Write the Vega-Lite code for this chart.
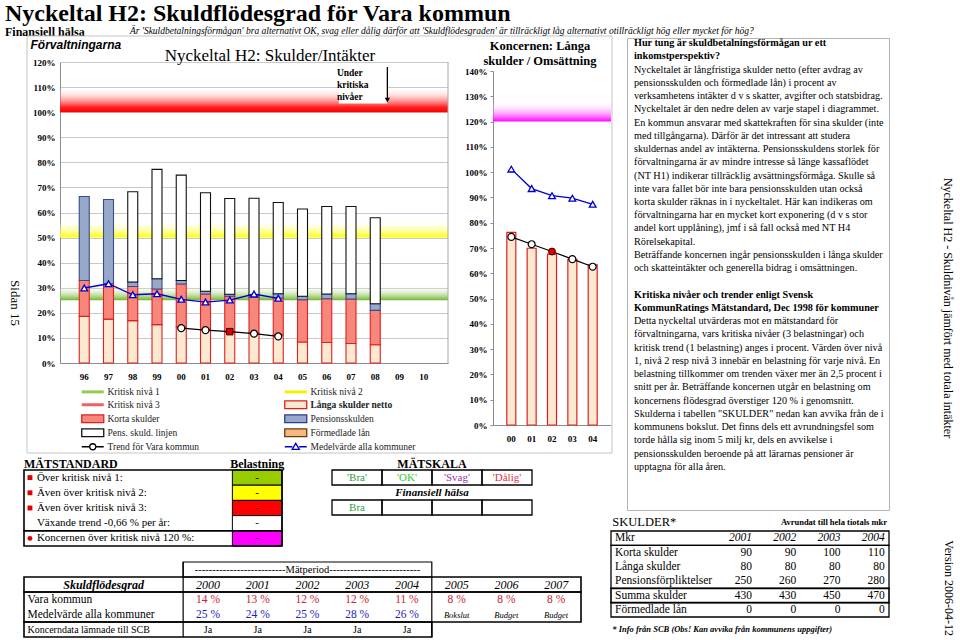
{
"$schema": "https://vega.github.io/schema/vega-lite/v6.json",
"background": "white",
"padding": {"left": 5, "top": 2, "right": 0, "bottom": 0},
"spacing": 0,
"bounds": "flush",
"resolve": {"scale": {"color": "independent", "fill": "independent", "stroke": "independent", "shape": "independent", "strokeWidth": "independent"}, "legend": {"color": "independent", "fill": "independent", "stroke": "independent", "shape": "independent", "strokeWidth": "independent"}},
"config": {
  "view": {"stroke": null},
  "font": "Liberation Serif",
  "text": {"font": "Liberation Serif", "color": "#000000"},
  "title": {"font": "Liberation Serif", "color": "#000000", "subtitleFont": "Liberation Serif", "subtitleColor": "#000000"},
  "axis": {"labelFont": "Liberation Serif", "titleFont": "Liberation Serif", "labelColor": "#000000", "titleColor": "#000000", "labelOverlap": false},
  "legend": {"labelFont": "Liberation Serif"}
},
"datasets": {
  "stapel": [
    {"ar":"96","del":"Långa skulder netto","varde":18.6},{"ar":"96","del":"Korta skulder","varde":14.3},{"ar":"96","del":"Pensionsskulden","varde":33.5},
    {"ar":"97","del":"Långa skulder netto","varde":17.5},{"ar":"97","del":"Korta skulder","varde":14.1},{"ar":"97","del":"Pensionsskulden","varde":33.6},
    {"ar":"98","del":"Långa skulder netto","varde":16.9},{"ar":"98","del":"Korta skulder","varde":13.6},{"ar":"98","del":"Pensionsskulden","varde":1.8},{"ar":"98","del":"Pens. skuld. linjen","varde":36.0},
    {"ar":"99","del":"Långa skulder netto","varde":15.3},{"ar":"99","del":"Korta skulder","varde":14.2},{"ar":"99","del":"Pensionsskulden","varde":4.1},{"ar":"99","del":"Pens. skuld. linjen","varde":43.6},
    {"ar":"00","del":"Långa skulder netto","varde":14.3},{"ar":"00","del":"Korta skulder","varde":17.2},{"ar":"00","del":"Pensionsskulden","varde":1.4},{"ar":"00","del":"Pens. skuld. linjen","varde":42.0},
    {"ar":"01","del":"Långa skulder netto","varde":13.4},{"ar":"01","del":"Korta skulder","varde":14.1},{"ar":"01","del":"Pensionsskulden","varde":1.1},{"ar":"01","del":"Pens. skuld. linjen","varde":39.3},
    {"ar":"02","del":"Långa skulder netto","varde":12.3},{"ar":"02","del":"Korta skulder","varde":14.3},{"ar":"02","del":"Pensionsskulden","varde":0.8},{"ar":"02","del":"Pens. skuld. linjen","varde":38.2},
    {"ar":"03","del":"Långa skulder netto","varde":11.9},{"ar":"03","del":"Korta skulder","varde":14.3},{"ar":"03","del":"Pensionsskulden","varde":1.0},{"ar":"03","del":"Pens. skuld. linjen","varde":38.5},
    {"ar":"04","del":"Långa skulder netto","varde":11.2},{"ar":"04","del":"Korta skulder","varde":14.7},{"ar":"04","del":"Pensionsskulden","varde":1.7},{"ar":"04","del":"Pens. skuld. linjen","varde":36.4},
    {"ar":"05","del":"Långa skulder netto","varde":8.4},{"ar":"05","del":"Korta skulder","varde":16.8},{"ar":"05","del":"Pensionsskulden","varde":1.4},{"ar":"05","del":"Pens. skuld. linjen","varde":34.8},
    {"ar":"06","del":"Långa skulder netto","varde":8.2},{"ar":"06","del":"Korta skulder","varde":17.4},{"ar":"06","del":"Pensionsskulden","varde":1.9},{"ar":"06","del":"Pens. skuld. linjen","varde":34.9},
    {"ar":"07","del":"Långa skulder netto","varde":7.8},{"ar":"07","del":"Korta skulder","varde":17.7},{"ar":"07","del":"Pensionsskulden","varde":2.1},{"ar":"07","del":"Pens. skuld. linjen","varde":34.8},
    {"ar":"08","del":"Långa skulder netto","varde":7.3},{"ar":"08","del":"Korta skulder","varde":13.7},{"ar":"08","del":"Pensionsskulden","varde":2.6},{"ar":"08","del":"Pens. skuld. linjen","varde":34.3}
  ],
  "forvLinjer": [
    {"ar":"96","serie":"Medelvärde alla kommuner","varde":29.9},
    {"ar":"97","serie":"Medelvärde alla kommuner","varde":31.6},
    {"ar":"98","serie":"Medelvärde alla kommuner","varde":27.2},
    {"ar":"99","serie":"Medelvärde alla kommuner","varde":27.6},
    {"ar":"00","serie":"Medelvärde alla kommuner","varde":25.4},
    {"ar":"01","serie":"Medelvärde alla kommuner","varde":24.3},
    {"ar":"02","serie":"Medelvärde alla kommuner","varde":25.1},
    {"ar":"03","serie":"Medelvärde alla kommuner","varde":27.5},
    {"ar":"04","serie":"Medelvärde alla kommuner","varde":25.8},
    {"ar":"00","serie":"Trend för Vara kommun","varde":13.9,"aktuellt":false},
    {"ar":"01","serie":"Trend för Vara kommun","varde":13.1,"aktuellt":false},
    {"ar":"02","serie":"Trend för Vara kommun","varde":12.5,"aktuellt":true},
    {"ar":"03","serie":"Trend för Vara kommun","varde":11.7,"aktuellt":false},
    {"ar":"04","serie":"Trend för Vara kommun","varde":10.6,"aktuellt":false}
  ],
  "nivaer": [
    {"niva":"Kritisk nivå 1","fran":25,"till":31},
    {"niva":"Kritisk nivå 2","fran":50,"till":57},
    {"niva":"Kritisk nivå 3","fran":100,"till":110},
    {"niva":"Koncernens kritiska nivå","fran":120,"till":128}
  ],
  "koncernStapel": [
    {"ar":"00","varde":76.2},{"ar":"01","varde":69.9},{"ar":"02","varde":67.6},{"ar":"03","varde":65.5},{"ar":"04","varde":63.3}
  ],
  "koncernLinjer": [
    {"ar":"00","serie":"Medelvärde alla kommuner","varde":101.2},
    {"ar":"01","serie":"Medelvärde alla kommuner","varde":93.5},
    {"ar":"02","serie":"Medelvärde alla kommuner","varde":90.7},
    {"ar":"03","serie":"Medelvärde alla kommuner","varde":89.7},
    {"ar":"04","serie":"Medelvärde alla kommuner","varde":87.3},
    {"ar":"00","serie":"Trend för Vara kommun","varde":74.4,"aktuellt":false},
    {"ar":"01","serie":"Trend för Vara kommun","varde":71.5,"aktuellt":false},
    {"ar":"02","serie":"Trend för Vara kommun","varde":68.6,"aktuellt":true},
    {"ar":"03","serie":"Trend för Vara kommun","varde":65.6,"aktuellt":false},
    {"ar":"04","serie":"Trend för Vara kommun","varde":62.6,"aktuellt":false}
  ],
  "matstandard": [
    {"rad":1,"blokk":1,"kriterium":"Över kritisk nivå 1:","belastning":"-","symbol":"kvadrat","niva":"Nivå 1"},
    {"rad":2,"blokk":1,"kriterium":"Även över kritisk nivå 2:","belastning":"-","symbol":"kvadrat","niva":"Nivå 2"},
    {"rad":3,"blokk":1,"kriterium":"Även över kritisk nivå 3:","belastning":"-","symbol":"kvadrat","niva":"Nivå 3"},
    {"rad":4,"blokk":1,"kriterium":"Växande trend -0,66 % per år:","belastning":"-","symbol":"ingen","niva":"Trend"},
    {"rad":5,"blokk":2,"kriterium":"Koncernen över kritisk nivå 120 %:","belastning":"-","symbol":"cirkel","niva":"Koncern"}
  ],
  "matskala": [
    {"kol":1,"klass":"Bra","resultat":"Bra"},
    {"kol":2,"klass":"OK","resultat":""},
    {"kol":3,"klass":"Svag","resultat":""},
    {"kol":4,"klass":"Dålig","resultat":""}
  ],
  "skuldflodesgrad": [
    {"ar":2000,"vara":14,"medel":25,"koncerndata":"Ja"},
    {"ar":2001,"vara":13,"medel":24,"koncerndata":"Ja"},
    {"ar":2002,"vara":12,"medel":25,"koncerndata":"Ja"},
    {"ar":2003,"vara":12,"medel":28,"koncerndata":"Ja"},
    {"ar":2004,"vara":11,"medel":26,"koncerndata":"Ja"},
    {"ar":2005,"vara":8,"status":"Bokslut"},
    {"ar":2006,"vara":8,"status":"Budget"},
    {"ar":2007,"vara":8,"status":"Budget"}
  ],
  "skulder": [
    {"post":"Korta skulder","ar":2001,"mkr":90},{"post":"Korta skulder","ar":2002,"mkr":90},{"post":"Korta skulder","ar":2003,"mkr":100},{"post":"Korta skulder","ar":2004,"mkr":110},
    {"post":"Långa skulder","ar":2001,"mkr":80},{"post":"Långa skulder","ar":2002,"mkr":80},{"post":"Långa skulder","ar":2003,"mkr":80},{"post":"Långa skulder","ar":2004,"mkr":80},
    {"post":"Pensionsförpliktelser","ar":2001,"mkr":250},{"post":"Pensionsförpliktelser","ar":2002,"mkr":260},{"post":"Pensionsförpliktelser","ar":2003,"mkr":270},{"post":"Pensionsförpliktelser","ar":2004,"mkr":280},
    {"post":"Summa skulder","ar":2001,"mkr":430},{"post":"Summa skulder","ar":2002,"mkr":430},{"post":"Summa skulder","ar":2003,"mkr":450},{"post":"Summa skulder","ar":2004,"mkr":470},
    {"post":"Förmedlade lån","ar":2001,"mkr":0},{"post":"Förmedlade lån","ar":2002,"mkr":0},{"post":"Förmedlade lån","ar":2003,"mkr":0},{"post":"Förmedlade lån","ar":2004,"mkr":0}
  ],
  "forklaring": [
    {"rad":1,"stil":"rubrik","text":"Hur tung är skuldbetalningsförmågan ur ett"},
    {"rad":2,"stil":"rubrik","text":"inkomstperspektiv?"},
    {"rad":3,"stil":"brod","text":"Nyckeltalet är långfristiga skulder netto (efter avdrag av"},
    {"rad":4,"stil":"brod","text":"pensionsskulden och förmedlade lån) i procent av"},
    {"rad":5,"stil":"brod","text":"verksamhetens intäkter d v s skatter, avgifter och statsbidrag."},
    {"rad":6,"stil":"brod","text":"Nyckeltalet är den nedre delen av varje stapel i diagrammet."},
    {"rad":7,"stil":"brod","text":"En kommun ansvarar med skattekraften för sina skulder (inte"},
    {"rad":8,"stil":"brod","text":"med tillgångarna). Därför är det intressant att studera"},
    {"rad":9,"stil":"brod","text":"skuldernas andel av intäkterna. Pensionsskuldens storlek för"},
    {"rad":10,"stil":"brod","text":"förvaltningarna är av mindre intresse så länge kassaflödet"},
    {"rad":11,"stil":"brod","text":"(NT H1)  indikerar tillräcklig avsättningsförmåga. Skulle så"},
    {"rad":12,"stil":"brod","text":"inte vara fallet bör inte bara pensionsskulden utan också"},
    {"rad":13,"stil":"brod","text":"korta skulder räknas in i nyckeltalet. Här kan indikeras om"},
    {"rad":14,"stil":"brod","text":"förvaltningarna har en mycket kort exponering (d v s stor"},
    {"rad":15,"stil":"brod","text":"andel kort upplåning), jmf i så fall också med NT H4"},
    {"rad":16,"stil":"brod","text":"Rörelsekapital."},
    {"rad":17,"stil":"brod","text":"Beträffande koncernen ingår pensionsskulden i långa skulder"},
    {"rad":18,"stil":"brod","text":"och skatteintäkter och generella bidrag i omsättningen."},
    {"rad":20,"stil":"rubrik","text":"Kritiska nivåer och trender enligt Svensk"},
    {"rad":21,"stil":"rubrik","text":"KommunRatings Mätstandard, Dec 1998 för kommuner"},
    {"rad":22,"stil":"brod","text":"Detta nyckeltal utvärderas mot en mätstandard för"},
    {"rad":23,"stil":"brod","text":"förvaltningarna, vars kritiska nivåer (3 belastningar) och"},
    {"rad":24,"stil":"brod","text":"kritisk trend (1 belastning) anges i procent. Värden över nivå"},
    {"rad":25,"stil":"brod","text":"1, nivå 2 resp nivå 3 innebär en belastning för varje nivå. En"},
    {"rad":26,"stil":"brod","text":"belastning tillkommer om trenden växer mer än 2,5 procent i"},
    {"rad":27,"stil":"brod","text":"snitt per år. Beträffande koncernen utgår en belastning om"},
    {"rad":28,"stil":"brod","text":"koncernens flödesgrad överstiger 120 % i genomsnitt."},
    {"rad":29,"stil":"brod","text":"Skulderna i tabellen \"SKULDER\" nedan kan avvika från de i"},
    {"rad":30,"stil":"brod","text":"kommunens bokslut. Det finns dels ett avrundningsfel som"},
    {"rad":31,"stil":"brod","text":"torde hålla sig inom 5 milj kr, dels en avvikelse i"},
    {"rad":32,"stil":"brod","text":"pensionsskulden beroende på att lärarnas pensioner är"},
    {"rad":33,"stil":"brod","text":"upptagna för alla åren."}
  ]
},
"hconcat": [
  {"width": 1, "height": 1, "data": {"values": []}, "mark": "point",
   "title": {"text": "Nyckeltal H2: Skuldflödesgrad för Vara kommun", "subtitle": "Finansiell hälsa", "anchor": "start", "fontSize": 24, "fontWeight": "bold", "subtitleFontSize": 12, "subtitleFontWeight": "bold", "offset": 0, "subtitlePadding": 1}},
  {"width": 1, "height": 530, "data": {"values": []}, "mark": "point",
   "title": {"text": "Sidan 15", "orient": "right", "angle": 90, "anchor": "middle", "fontSize": 13, "fontWeight": "normal", "offset": 1}},
  {"width": 15, "height": 1, "data": {"values": []}, "mark": "point"},
  {
    "width": 38, "height": 1,
    "title": {"text": "Är 'Skuldbetalningsförmågan' bra alternativt OK, svag eller dålig därför att 'Skuldflödesgraden' är tillräckligt låg alternativt otillräckligt hög eller mycket för hög?", "anchor": "start", "dx": 108, "fontSize": 9.5, "fontWeight": "normal", "fontStyle": "italic", "offset": 0},
    "layer": [
      {"data": {"values": [{}]}, "mark": {"type": "rect", "fillOpacity": 0, "stroke": "#c4c4c4", "strokeWidth": 1},
       "encoding": {
         "x": {"datum": 0, "type": "quantitative", "scale": {"domain": [0, 1], "range": [5, 590], "nice": false}, "axis": null},
         "x2": {"datum": 1},
         "y": {"datum": 0, "type": "quantitative", "scale": {"domain": [0, 1], "range": [-2, 415], "nice": false}, "axis": null},
         "y2": {"datum": 1}}},
      {
        "data": {"name": "matstandard"},
        "transform": [{"calculate": "datum.rad - 0.5", "as": "y0"}, {"calculate": "datum.rad + 0.5", "as": "y1"}],
        "layer": [
          {"mark": {"type": "rect", "stroke": "#000000", "strokeWidth": 1},
           "encoding": {
             "x": {"datum": 4.2, "type": "quantitative", "scale": {"domain": [0, 5.2], "range": [2, 260], "nice": false, "zero": false}, "axis": null},
             "x2": {"datum": 5.2},
             "y": {"field": "y0", "type": "quantitative", "scale": {"domain": [0.5, 5.5], "range": [432, 508], "nice": false, "zero": false}, "axis": null},
             "y2": {"field": "y1"},
             "fill": {"field": "niva", "type": "nominal", "scale": {"domain": ["Nivå 1","Nivå 2","Nivå 3","Trend","Koncern"], "range": ["#99CC00","#FFFF00","#FF0000","#FFFFFF","#FF00FF"]}, "legend": null}}},
          {"transform": [{"aggregate": [{"op": "min", "field": "y0", "as": "b0"}, {"op": "max", "field": "y1", "as": "b1"}], "groupby": ["blokk"]}],
           "mark": {"type": "rect", "fillOpacity": 0, "stroke": "#000000", "strokeWidth": 1.6},
           "encoding": {"x": {"datum": 0, "type": "quantitative"}, "x2": {"datum": 5.2}, "y": {"field": "b0", "type": "quantitative"}, "y2": {"field": "b1"}}},
          {"transform": [{"filter": "datum.symbol != 'ingen'"}],
           "mark": {"type": "point", "filled": true, "color": "#E00000", "size": 24, "opacity": 1},
           "encoding": {"x": {"datum": 0.12, "type": "quantitative"}, "y": {"field": "rad", "type": "quantitative"},
             "shape": {"field": "symbol", "type": "nominal", "scale": {"domain": ["kvadrat","cirkel"], "range": ["square","circle"]}, "legend": null}}},
          {"mark": {"type": "text", "align": "left", "baseline": "middle", "fontSize": 11},
           "encoding": {"x": {"datum": 0.26, "type": "quantitative"}, "y": {"field": "rad", "type": "quantitative"}, "text": {"field": "kriterium"}}},
          {"mark": {"type": "text", "align": "center", "baseline": "middle", "fontSize": 11},
           "encoding": {"x": {"datum": 4.7, "type": "quantitative"}, "y": {"field": "rad", "type": "quantitative"}, "text": {"field": "belastning"}}},
          {"data": {"values": [{}]},
           "mark": {"type": "text", "align": "left", "baseline": "middle", "fontSize": 12, "fontWeight": "bold"},
           "encoding": {"x": {"datum": 0.0, "type": "quantitative"}, "y": {"datum": 0.1, "type": "quantitative"}, "text": {"value": "MÄTSTANDARD"}}},
          {"data": {"values": [{}]},
           "mark": {"type": "text", "align": "center", "baseline": "middle", "fontSize": 12, "fontWeight": "bold"},
           "encoding": {"x": {"datum": 4.7, "type": "quantitative"}, "y": {"datum": 0.1, "type": "quantitative"}, "text": {"value": "Belastning"}}}
        ]
      },
      {
        "data": {"name": "matskala"},
        "transform": [{"calculate": "datum.kol - 0.5", "as": "k0"}, {"calculate": "datum.kol + 0.5", "as": "k1"}, {"calculate": "\"'\" + datum.klass + \"'\"", "as": "etikett"}],
        "layer": [
          {"mark": {"type": "rect", "fillOpacity": 0, "stroke": "#000000", "strokeWidth": 1.3},
           "encoding": {
             "x": {"field": "k0", "type": "quantitative", "scale": {"domain": [0.5, 4.5], "range": [310, 510], "nice": false, "zero": false}, "axis": null},
             "x2": {"field": "k1"},
             "y": {"datum": 0.5, "type": "quantitative", "scale": {"domain": [0.5, 3.5], "range": [432, 477], "nice": false, "zero": false}, "axis": null},
             "y2": {"datum": 1.5}}},
          {"mark": {"type": "rect", "fillOpacity": 0, "stroke": "#000000", "strokeWidth": 1.3},
           "encoding": {"x": {"field": "k0", "type": "quantitative"}, "x2": {"field": "k1"}, "y": {"datum": 2.5, "type": "quantitative"}, "y2": {"datum": 3.5}}},
          {"mark": {"type": "text", "align": "center", "baseline": "middle", "fontSize": 11},
           "encoding": {"x": {"field": "kol", "type": "quantitative"}, "y": {"datum": 1, "type": "quantitative"}, "text": {"field": "etikett"},
             "color": {"field": "klass", "type": "nominal", "scale": {"domain": ["Bra","OK","Svag","Dålig"], "range": ["#2E9E3E","#33CC33","#9933AA","#DD3344"]}, "legend": null}}},
          {"transform": [{"filter": "datum.resultat != ''"}],
           "mark": {"type": "text", "align": "center", "baseline": "middle", "fontSize": 11},
           "encoding": {"x": {"field": "kol", "type": "quantitative"}, "y": {"datum": 3, "type": "quantitative"}, "text": {"field": "resultat"},
             "color": {"field": "klass", "type": "nominal", "legend": null}}},
          {"data": {"values": [{}]},
           "mark": {"type": "text", "align": "center", "baseline": "middle", "fontSize": 12, "fontWeight": "bold"},
           "encoding": {"x": {"datum": 2.5, "type": "quantitative"}, "y": {"datum": 0.1, "type": "quantitative"}, "text": {"value": "MÄTSKALA"}}},
          {"data": {"values": [{}]},
           "mark": {"type": "text", "align": "center", "baseline": "middle", "fontSize": 11, "fontWeight": "bold", "fontStyle": "italic"},
           "encoding": {"x": {"datum": 2.5, "type": "quantitative"}, "y": {"datum": 2, "type": "quantitative"}, "text": {"value": "Finansiell hälsa"}}}
        ]
      },
      {
        "data": {"name": "skuldflodesgrad"},
        "layer": [
          {"data": {"values": [{}]}, "mark": {"type": "rect", "fillOpacity": 0, "stroke": "#000000", "strokeWidth": 1.2},
           "encoding": {
             "x": {"datum": 1999.5, "type": "quantitative", "scale": {"domain": [1996.3, 2007.5], "range": [2, 559], "nice": false, "zero": false}, "axis": null},
             "x2": {"datum": 2004.5},
             "y": {"datum": -0.5, "type": "quantitative", "scale": {"domain": [-0.5, 4.5], "range": [524, 599], "nice": false, "zero": false}, "axis": null},
             "y2": {"datum": 0.5}}},
          {"data": {"values": [{}]}, "mark": {"type": "rect", "fillOpacity": 0, "stroke": "#000000", "strokeWidth": 1.6},
           "encoding": {"x": {"datum": 1996.3, "type": "quantitative"}, "x2": {"datum": 2007.5}, "y": {"datum": 0.5, "type": "quantitative"}, "y2": {"datum": 1.5}}},
          {"data": {"values": [{}]}, "mark": {"type": "rect", "fillOpacity": 0, "stroke": "#000000", "strokeWidth": 1.6},
           "encoding": {"x": {"datum": 1996.3, "type": "quantitative"}, "x2": {"datum": 2007.5}, "y": {"datum": 1.5, "type": "quantitative"}, "y2": {"datum": 3.5}}},
          {"data": {"values": [{}]}, "mark": {"type": "rect", "fillOpacity": 0, "stroke": "#000000", "strokeWidth": 1.6},
           "encoding": {"x": {"datum": 1996.3, "type": "quantitative"}, "x2": {"datum": 2004.5}, "y": {"datum": 3.5, "type": "quantitative"}, "y2": {"datum": 4.5}}},
          {"data": {"values": [{}]}, "mark": {"type": "rule", "color": "#000000", "strokeWidth": 1.2},
           "encoding": {"x": {"datum": 1999.5, "type": "quantitative"}, "y": {"datum": -0.5, "type": "quantitative"}, "y2": {"datum": 4.5}}},
          {"data": {"values": [{}]}, "mark": {"type": "rule", "color": "#000000", "strokeWidth": 1.2},
           "encoding": {"x": {"datum": 2004.5, "type": "quantitative"}, "y": {"datum": 0.5, "type": "quantitative"}, "y2": {"datum": 4.5}}},
          {"data": {"values": [{}]}, "mark": {"type": "text", "align": "center", "baseline": "middle", "fontSize": 10.5},
           "encoding": {"x": {"datum": 2002, "type": "quantitative"}, "y": {"datum": 0, "type": "quantitative"}, "text": {"value": "--------------------------Mätperiod--------------------------"}}},
          {"data": {"values": [{}]}, "mark": {"type": "text", "align": "center", "baseline": "middle", "fontSize": 12, "fontWeight": "bold", "fontStyle": "italic"},
           "encoding": {"x": {"datum": 1997.9, "type": "quantitative"}, "y": {"datum": 1, "type": "quantitative"}, "text": {"value": "Skuldflödesgrad"}}},
          {"mark": {"type": "text", "align": "center", "baseline": "middle", "fontSize": 12, "fontStyle": "italic"},
           "encoding": {"x": {"field": "ar", "type": "quantitative"}, "y": {"datum": 1, "type": "quantitative"}, "text": {"field": "ar", "type": "quantitative", "format": "d"}}},
          {"data": {"values": [{"rad": 2, "etikett": "Vara kommun"}, {"rad": 3, "etikett": "Medelvärde alla kommuner"}]},
           "mark": {"type": "text", "align": "left", "baseline": "middle", "fontSize": 11.5},
           "encoding": {"x": {"datum": 1996.37, "type": "quantitative"}, "y": {"field": "rad", "type": "quantitative"}, "text": {"field": "etikett"}}},
          {"data": {"values": [{"rad": 4, "etikett": "Koncerndata lämnade till SCB"}]},
           "mark": {"type": "text", "align": "left", "baseline": "middle", "fontSize": 10},
           "encoding": {"x": {"datum": 1996.37, "type": "quantitative"}, "y": {"field": "rad", "type": "quantitative"}, "text": {"field": "etikett"}}},
          {"transform": [{"calculate": "datum.vara + ' %'", "as": "vara_txt"}],
           "mark": {"type": "text", "align": "center", "baseline": "middle", "fontSize": 11.5, "color": "#CC2233"},
           "encoding": {"x": {"field": "ar", "type": "quantitative"}, "y": {"datum": 2, "type": "quantitative"}, "text": {"field": "vara_txt"}}},
          {"transform": [{"filter": "isValid(datum.medel)"}, {"calculate": "datum.medel + ' %'", "as": "medel_txt"}],
           "mark": {"type": "text", "align": "center", "baseline": "middle", "fontSize": 11.5, "color": "#2222BB"},
           "encoding": {"x": {"field": "ar", "type": "quantitative"}, "y": {"datum": 3, "type": "quantitative"}, "text": {"field": "medel_txt"}}},
          {"transform": [{"filter": "isValid(datum.status)"}],
           "mark": {"type": "text", "align": "center", "baseline": "middle", "fontSize": 8.5, "fontStyle": "italic"},
           "encoding": {"x": {"field": "ar", "type": "quantitative"}, "y": {"datum": 3, "type": "quantitative"}, "text": {"field": "status"}}},
          {"transform": [{"filter": "isValid(datum.koncerndata)"}],
           "mark": {"type": "text", "align": "center", "baseline": "middle", "fontSize": 10},
           "encoding": {"x": {"field": "ar", "type": "quantitative"}, "y": {"datum": 4, "type": "quantitative"}, "text": {"field": "koncerndata"}}}
        ]
      }
    ],
    "resolve": {"scale": {"x": "independent", "y": "independent", "color": "independent", "fill": "independent", "shape": "independent"}}
  },
  {
    "width": 388, "height": 325,
    "title": {"text": "Nyckeltal H2: Skulder/Intäkter", "fontSize": 17, "fontWeight": "normal", "anchor": "middle", "dx": 16, "dy": 27, "offset": 0},
    "layer": [
      {"data": {"name": "nivaer"}, "transform": [{"filter": "datum.niva == 'Kritisk nivå 1'"}],
       "mark": {"type": "rect", "fill": {"gradient": "linear", "x1": 0, "y1": 1, "x2": 0, "y2": 0, "stops": [{"offset": 0, "color": "#6FB52C"}, {"offset": 1, "color": "rgba(255,255,255,0)"}]}},
       "encoding": {
         "y": {"field": "fran", "type": "quantitative", "title": "Förvaltningarna", "scale": {"domain": [0, 120], "nice": false, "range": [325, 24]}, "axis": {"values": [0,10,20,30,40,50,60,70,80,90,100,110,120], "tickCount": 20, "labelOverlap": false, "labelExpr": "datum.value + '%'", "labelFontSize": 9, "labelFontWeight": "bold", "labelPadding": 5, "grid": true, "gridColor": "#c8c8c8", "ticks": false, "domainColor": "#8c8c8c", "titleAngle": 0, "titleAlign": "left", "titleBaseline": "middle", "titleX": -30, "titleY": 6, "titleFont": "Liberation Sans", "titleFontSize": 12, "titleFontWeight": "bold", "titleFontStyle": "italic"}},
         "y2": {"field": "till"}}},
      {"data": {"name": "nivaer"}, "transform": [{"filter": "datum.niva == 'Kritisk nivå 2'"}],
       "mark": {"type": "rect", "fill": {"gradient": "linear", "x1": 0, "y1": 1, "x2": 0, "y2": 0, "stops": [{"offset": 0, "color": "#FFFF00"}, {"offset": 1, "color": "rgba(255,255,255,0)"}]}},
       "encoding": {"y": {"field": "fran", "type": "quantitative", "title": "Förvaltningarna"}, "y2": {"field": "till"}}},
      {"data": {"name": "nivaer"}, "transform": [{"filter": "datum.niva == 'Kritisk nivå 3'"}],
       "mark": {"type": "rect", "fill": {"gradient": "linear", "x1": 0, "y1": 1, "x2": 0, "y2": 0, "stops": [{"offset": 0, "color": "#FF0000"}, {"offset": 0.2, "color": "#FF2020"}, {"offset": 1, "color": "rgba(255,255,255,0)"}]}},
       "encoding": {"y": {"field": "fran", "type": "quantitative", "title": "Förvaltningarna"}, "y2": {"field": "till"}}},
      {"data": {"name": "stapel"},
       "transform": [{"calculate": "indexof(['Långa skulder netto','Korta skulder','Pensionsskulden','Pens. skuld. linjen'], datum.del)", "as": "ordning"}],
       "mark": {"type": "bar", "size": 10},
       "encoding": {
         "x": {"field": "ar", "type": "ordinal", "title": null, "scale": {"domain": ["96","97","98","99","00","01","02","03","04","05","06","07","08","09","10"], "paddingInner": 0, "paddingOuter": 0.5}, "axis": {"labelFontSize": 9, "labelFontWeight": "bold", "labelPadding": 9, "ticks": false, "domainColor": "#8c8c8c", "labelAngle": 0}},
         "y": {"field": "varde", "type": "quantitative", "title": "Förvaltningarna", "stack": "zero"},
         "order": {"field": "ordning", "type": "quantitative"},
         "color": {"field": "del", "type": "nominal",
           "scale": {"domain": ["Kritisk nivå 1","Kritisk nivå 3","Korta skulder","Pens. skuld. linjen","Trend för Vara kommun","Kritisk nivå 2","Långa skulder netto","Pensionsskulden","Förmedlade lån","Medelvärde alla kommuner"],
                     "range": ["#9BC94F","#F06060","#F7877A","#FFFFFF","#FFFFFF","#FFFF33","#FDE9CF","#97A9C9","#F5B97D","#FFFFFF"]},
           "legend": {"orient": "none", "legendX": 28, "legendY": 349, "columns": 2, "columnPadding": 78, "rowPadding": 0, "title": null, "symbolSize": 64, "labelFontSize": 9.5, "labelOffset": 10, "labelColor": "#222222",
             "encode": {
               "symbols": {"update": {
                 "shape": {"signal": "['M-2.75,0H2.75','M-2.75,0H2.75','M-2.75,-0.95H2.75V0.95H-2.75Z','M-2.75,-0.95H2.75V0.95H-2.75Z','M-2.75,0H-0.75M0.75,0H2.75M0.75,0A0.75,0.75 0 1,1 -0.75,0A0.75,0.75 0 1,1 0.75,0Z','M-2.75,0H2.75','M-2.75,-0.95H2.75V0.95H-2.75Z','M-2.75,-0.95H2.75V0.95H-2.75Z','M-2.75,-0.95H2.75V0.95H-2.75Z','M-2.75,0H-0.85M0.85,0H2.75M0,-0.85L0.9,0.65L-0.9,0.65Z'][indexof(['Kritisk nivå 1','Kritisk nivå 3','Korta skulder','Pens. skuld. linjen','Trend för Vara kommun','Kritisk nivå 2','Långa skulder netto','Pensionsskulden','Förmedlade lån','Medelvärde alla kommuner'], datum.value)]"},
                 "fill": {"signal": "['#9BC94F','#F06060','#F7877A','#FFFFFF','#FFFFFF','#FFFF33','#FDE9CF','#97A9C9','#F5B97D','#FFFFFF'][indexof(['Kritisk nivå 1','Kritisk nivå 3','Korta skulder','Pens. skuld. linjen','Trend för Vara kommun','Kritisk nivå 2','Långa skulder netto','Pensionsskulden','Förmedlade lån','Medelvärde alla kommuner'], datum.value)]"},
                 "stroke": {"signal": "['#9BC94F','#F06060','#E02020','#111111','#000000','#F2F200','#E02020','#2F3A8F','#6B3A10','#0000CC'][indexof(['Kritisk nivå 1','Kritisk nivå 3','Korta skulder','Pens. skuld. linjen','Trend för Vara kommun','Kritisk nivå 2','Långa skulder netto','Pensionsskulden','Förmedlade lån','Medelvärde alla kommuner'], datum.value)]"},
                 "strokeWidth": {"signal": "indexof(['Kritisk nivå 1','Kritisk nivå 2','Kritisk nivå 3'], datum.value) >= 0 ? 3 : 1.3"},
                 "opacity": {"value": 1}
               }},
               "labels": {"update": {"fontWeight": {"signal": "datum.value == 'Långa skulder netto' ? 'bold' : 'normal'"}}}
             }}},
         "stroke": {"field": "del", "type": "nominal", "scale": {"domain": ["Långa skulder netto","Korta skulder","Pensionsskulden","Pens. skuld. linjen"], "range": ["#E02020","#E02020","#3A4A90","#111111"]}, "legend": null},
         "strokeWidth": {"field": "del", "type": "nominal", "scale": {"domain": ["Långa skulder netto","Korta skulder","Pensionsskulden","Pens. skuld. linjen"], "range": [1.1, 1.1, 1.1, 1.6]}, "legend": null}
       }},
      {"data": {"values": [{"ar":"10","fran":0,"till":120}]},
       "mark": {"type": "rule", "color": "#a8a8a8", "strokeWidth": 1},
       "encoding": {"x": {"field": "ar", "type": "ordinal", "title": null, "bandPosition": 1.5}, "y": {"field": "fran", "type": "quantitative", "title": "Förvaltningarna"}, "y2": {"field": "till"}}},
      {"data": {"values": [{"ar":"07","fran":103.5,"till":117.8},{"ar":"08","fran":103.5,"till":117.8}]},
       "mark": {"type": "rect", "fill": "#FFFFFF"},
       "encoding": {"x": {"field": "ar", "type": "ordinal", "title": null}, "y": {"field": "fran", "type": "quantitative", "title": "Förvaltningarna"}, "y2": {"field": "till"}}},
      {"data": {"values": [{"ar":"07","niva":117.6,"tekst":"Under\nkritiska\nnivåer"}]},
       "mark": {"type": "text", "align": "left", "baseline": "top", "lineBreak": "\n", "lineHeight": 12, "fontSize": 9.5, "fontWeight": "bold", "dx": -2},
       "encoding": {"x": {"field": "ar", "type": "ordinal", "title": null, "bandPosition": 0}, "y": {"field": "niva", "type": "quantitative", "title": "Förvaltningarna"}, "text": {"field": "tekst"}}},
      {"data": {"values": [{"ar":"08","fran":104.8,"till":118.0}]},
       "mark": {"type": "rule", "color": "#000000", "strokeWidth": 1.3},
       "encoding": {"x": {"field": "ar", "type": "ordinal", "title": null, "bandPosition": 1}, "y": {"field": "fran", "type": "quantitative", "title": "Förvaltningarna"}, "y2": {"field": "till"}}},
      {"data": {"values": [{"ar":"08","fran":104.8}]},
       "mark": {"type": "point", "shape": "triangle-down", "filled": true, "color": "#000000", "size": 28, "opacity": 1},
       "encoding": {"x": {"field": "ar", "type": "ordinal", "title": null, "bandPosition": 1}, "y": {"field": "fran", "type": "quantitative", "title": "Förvaltningarna"}}},
      {"data": {"name": "forvLinjer"}, "transform": [{"filter": "datum.serie == 'Medelvärde alla kommuner'"}],
       "mark": {"type": "line", "color": "#0000CC", "strokeWidth": 1.3},
       "encoding": {"x": {"field": "ar", "type": "ordinal", "title": null}, "y": {"field": "varde", "type": "quantitative", "title": "Förvaltningarna"}}},
      {"data": {"name": "forvLinjer"}, "transform": [{"filter": "datum.serie == 'Medelvärde alla kommuner'"}],
       "mark": {"type": "point", "shape": "triangle-up", "filled": true, "fill": "#FFFFFF", "stroke": "#0000CC", "strokeWidth": 1.3, "size": 45, "opacity": 1},
       "encoding": {"x": {"field": "ar", "type": "ordinal", "title": null}, "y": {"field": "varde", "type": "quantitative", "title": "Förvaltningarna"}}},
      {"data": {"name": "forvLinjer"}, "transform": [{"filter": "datum.serie == 'Trend för Vara kommun'"}],
       "mark": {"type": "line", "color": "#000000", "strokeWidth": 1.2},
       "encoding": {"x": {"field": "ar", "type": "ordinal", "title": null}, "y": {"field": "varde", "type": "quantitative", "title": "Förvaltningarna"}}},
      {"data": {"name": "forvLinjer"}, "transform": [{"filter": "datum.serie == 'Trend för Vara kommun' && !datum.aktuellt"}],
       "mark": {"type": "point", "shape": "circle", "filled": true, "fill": "#FFFFFF", "stroke": "#000000", "strokeWidth": 1.2, "size": 48, "opacity": 1},
       "encoding": {"x": {"field": "ar", "type": "ordinal", "title": null}, "y": {"field": "varde", "type": "quantitative", "title": "Förvaltningarna"}}},
      {"data": {"name": "forvLinjer"}, "transform": [{"filter": "datum.serie == 'Trend för Vara kommun' && datum.aktuellt"}],
       "mark": {"type": "point", "shape": "square", "filled": true, "fill": "#E00000", "stroke": "#400000", "strokeWidth": 1, "size": 42, "opacity": 1},
       "encoding": {"x": {"field": "ar", "type": "ordinal", "title": null}, "y": {"field": "varde", "type": "quantitative", "title": "Förvaltningarna"}}}
    ]
  },
  {"width": 45, "height": 1, "data": {"values": []}, "mark": "point"},
  {
    "width": 118, "height": 387,
    "title": {"text": ["Koncernen: Långa", "skulder / Omsättning"], "fontSize": 12.5, "fontWeight": "bold", "anchor": "middle", "dx": -12, "dy": 29, "offset": 0, "lineHeight": 15},
    "layer": [
      {"data": {"name": "nivaer"}, "transform": [{"filter": "datum.niva == 'Koncernens kritiska nivå'"}],
       "mark": {"type": "rect", "fill": {"gradient": "linear", "x1": 0, "y1": 1, "x2": 0, "y2": 0, "stops": [{"offset": 0, "color": "#FF00FF"}, {"offset": 1, "color": "rgba(255,255,255,0)"}]}},
       "encoding": {
         "y": {"field": "fran", "type": "quantitative", "title": null, "scale": {"domain": [0, 140], "nice": false, "range": [387, 33]}, "axis": {"values": [0,10,20,30,40,50,60,70,80,90,100,110,120,130,140], "tickCount": 20, "labelOverlap": false, "labelExpr": "datum.value + '%'", "labelFontSize": 9, "labelFontWeight": "bold", "labelPadding": 3, "grid": false, "ticks": true, "tickSize": 3, "tickColor": "#8c8c8c", "domainColor": "#8c8c8c"}},
         "y2": {"field": "till"}}},
      {"data": {"name": "koncernStapel"},
       "mark": {"type": "bar", "size": 9, "fill": "#FDE9CF", "stroke": "#E02020", "strokeWidth": 1.2},
       "encoding": {
         "x": {"field": "ar", "type": "ordinal", "title": null, "scale": {"domain": ["00","01","02","03","04"], "paddingInner": 0, "paddingOuter": 0.4}, "axis": {"labelFontSize": 9, "labelFontWeight": "bold", "labelPadding": 9, "ticks": false, "domainColor": "#8c8c8c", "labelAngle": 0}},
         "y": {"field": "varde", "type": "quantitative", "title": null}}},
      {"data": {"name": "koncernLinjer"}, "transform": [{"filter": "datum.serie == 'Medelvärde alla kommuner'"}],
       "mark": {"type": "line", "color": "#0000CC", "strokeWidth": 1.3},
       "encoding": {"x": {"field": "ar", "type": "ordinal", "title": null}, "y": {"field": "varde", "type": "quantitative", "title": null}}},
      {"data": {"name": "koncernLinjer"}, "transform": [{"filter": "datum.serie == 'Medelvärde alla kommuner'"}],
       "mark": {"type": "point", "shape": "triangle-up", "filled": true, "fill": "#FFFFFF", "stroke": "#0000CC", "strokeWidth": 1.3, "size": 45, "opacity": 1},
       "encoding": {"x": {"field": "ar", "type": "ordinal", "title": null}, "y": {"field": "varde", "type": "quantitative", "title": null}}},
      {"data": {"name": "koncernLinjer"}, "transform": [{"filter": "datum.serie == 'Trend för Vara kommun'"}],
       "mark": {"type": "line", "color": "#000000", "strokeWidth": 1.2},
       "encoding": {"x": {"field": "ar", "type": "ordinal", "title": null}, "y": {"field": "varde", "type": "quantitative", "title": null}}},
      {"data": {"name": "koncernLinjer"}, "transform": [{"filter": "datum.serie == 'Trend för Vara kommun' && !datum.aktuellt"}],
       "mark": {"type": "point", "shape": "circle", "filled": true, "fill": "#FFFFFF", "stroke": "#000000", "strokeWidth": 1.2, "size": 48, "opacity": 1},
       "encoding": {"x": {"field": "ar", "type": "ordinal", "title": null}, "y": {"field": "varde", "type": "quantitative", "title": null}}},
      {"data": {"name": "koncernLinjer"}, "transform": [{"filter": "datum.serie == 'Trend för Vara kommun' && datum.aktuellt"}],
       "mark": {"type": "point", "shape": "circle", "filled": true, "fill": "#E00000", "stroke": "#400000", "strokeWidth": 1, "size": 48, "opacity": 1},
       "encoding": {"x": {"field": "ar", "type": "ordinal", "title": null}, "y": {"field": "varde", "type": "quantitative", "title": null}}}
    ]
  },
  {
    "width": 16, "height": 1,
    "data": {"name": "skulder"},
    "transform": [
      {"calculate": "indexof(['Korta skulder','Långa skulder','Pensionsförpliktelser','Summa skulder','Förmedlade lån'], datum.post) + 2", "as": "rad"},
      {"calculate": "datum.ar + 0.45", "as": "hoger"}
    ],
    "layer": [
      {"data": {"values": [{}]}, "mark": {"type": "rect", "fillOpacity": 0, "stroke": "#000000", "strokeWidth": 1.3},
       "encoding": {
         "x": {"datum": 1998.27, "type": "quantitative", "scale": {"domain": [1998.27, 2004.545], "range": [0, 278], "nice": false, "zero": false}, "axis": null},
         "x2": {"datum": 2004.545},
         "y": {"datum": 0.5, "type": "quantitative", "scale": {"domain": [0.5, 6.5], "range": [493, 579], "nice": false, "zero": false}, "axis": null},
         "y2": {"datum": 1.5}}},
      {"data": {"values": [{}]}, "mark": {"type": "rect", "fillOpacity": 0, "stroke": "#000000", "strokeWidth": 1.3},
       "encoding": {"x": {"datum": 1998.27, "type": "quantitative"}, "x2": {"datum": 2004.545}, "y": {"datum": 1.5, "type": "quantitative"}, "y2": {"datum": 4.5}}},
      {"data": {"values": [{}]}, "mark": {"type": "rect", "fillOpacity": 0, "stroke": "#000000", "strokeWidth": 1.6},
       "encoding": {"x": {"datum": 1998.27, "type": "quantitative"}, "x2": {"datum": 2004.545}, "y": {"datum": 4.5, "type": "quantitative"}, "y2": {"datum": 5.5}}},
      {"data": {"values": [{}]}, "mark": {"type": "rect", "fillOpacity": 0, "stroke": "#000000", "strokeWidth": 1.3},
       "encoding": {"x": {"datum": 1998.27, "type": "quantitative"}, "x2": {"datum": 2004.545}, "y": {"datum": 5.5, "type": "quantitative"}, "y2": {"datum": 6.5}}},
      {"transform": [{"filter": "datum.ar == 2001"}],
       "mark": {"type": "text", "align": "left", "baseline": "middle", "fontSize": 11.5},
       "encoding": {"x": {"datum": 1998.36, "type": "quantitative"}, "y": {"field": "rad", "type": "quantitative"}, "text": {"field": "post"}}},
      {"mark": {"type": "text", "align": "right", "baseline": "middle", "fontSize": 11.5},
       "encoding": {"x": {"field": "hoger", "type": "quantitative"}, "y": {"field": "rad", "type": "quantitative"}, "text": {"field": "mkr", "type": "quantitative", "format": "d"}}},
      {"transform": [{"filter": "datum.post == 'Korta skulder'"}],
       "mark": {"type": "text", "align": "right", "baseline": "middle", "fontSize": 11.5, "fontStyle": "italic"},
       "encoding": {"x": {"field": "hoger", "type": "quantitative"}, "y": {"datum": 1, "type": "quantitative"}, "text": {"field": "ar", "type": "quantitative", "format": "d"}}},
      {"data": {"values": [{}]}, "mark": {"type": "text", "align": "left", "baseline": "middle", "fontSize": 11.5},
       "encoding": {"x": {"datum": 1998.36, "type": "quantitative"}, "y": {"datum": 1, "type": "quantitative"}, "text": {"value": "Mkr"}}},
      {"data": {"values": [{}]}, "mark": {"type": "text", "align": "left", "baseline": "middle", "fontSize": 12.5},
       "encoding": {"x": {"datum": 1998.3, "type": "quantitative"}, "y": {"datum": -0.15, "type": "quantitative"}, "text": {"value": "SKULDER*"}}},
      {"data": {"values": [{}]}, "mark": {"type": "text", "align": "right", "baseline": "middle", "fontSize": 8.5, "fontWeight": "bold"},
       "encoding": {"x": {"datum": 2004.5, "type": "quantitative"}, "y": {"datum": -0.1, "type": "quantitative"}, "text": {"value": "Avrundat till hela tiotals mkr"}}},
      {"data": {"values": [{}]}, "mark": {"type": "text", "align": "left", "baseline": "middle", "fontSize": 8.5, "fontWeight": "bold", "fontStyle": "italic"},
       "encoding": {"x": {"datum": 1998.3, "type": "quantitative"}, "y": {"datum": 7.35, "type": "quantitative"}, "text": {"value": "* Info från SCB (Obs! Kan avvika från kommunens uppgifter)"}}}
    ]
  },
  {
    "width": 262, "height": 472,
    "view": {"stroke": "#b4b4b4"},
    "data": {"name": "forklaring"},
    "encoding": {
      "y": {"field": "rad", "type": "quantitative", "scale": {"domain": [0.62, 36.25], "nice": false, "zero": false, "reverse": true}, "axis": null},
      "x": {"value": 7},
      "text": {"field": "text"}
    },
    "layer": [
      {"transform": [{"filter": "datum.stil == 'brod'"}], "mark": {"type": "text", "align": "left", "baseline": "middle", "fontSize": 10.2}},
      {"transform": [{"filter": "datum.stil == 'rubrik'"}], "mark": {"type": "text", "align": "left", "baseline": "middle", "fontSize": 10.2, "fontWeight": "bold"}}
    ]
  },
  {"width": 51, "height": 1, "data": {"values": []}, "mark": "point"},
  {"width": 1, "height": 540, "data": {"values": []}, "mark": "point",
   "title": {"text": "Nyckeltal H2 - Skuldnivån jämfört med totala intäkter", "orient": "right", "angle": 90, "anchor": "middle", "fontSize": 12, "fontWeight": "normal", "offset": 0}},
  {"width": 1, "height": 598, "data": {"values": []}, "mark": "point",
   "title": {"text": "Version 2006-04-12", "orient": "right", "angle": 90, "anchor": "end", "fontSize": 12, "fontWeight": "normal", "offset": 0}}
]
}
